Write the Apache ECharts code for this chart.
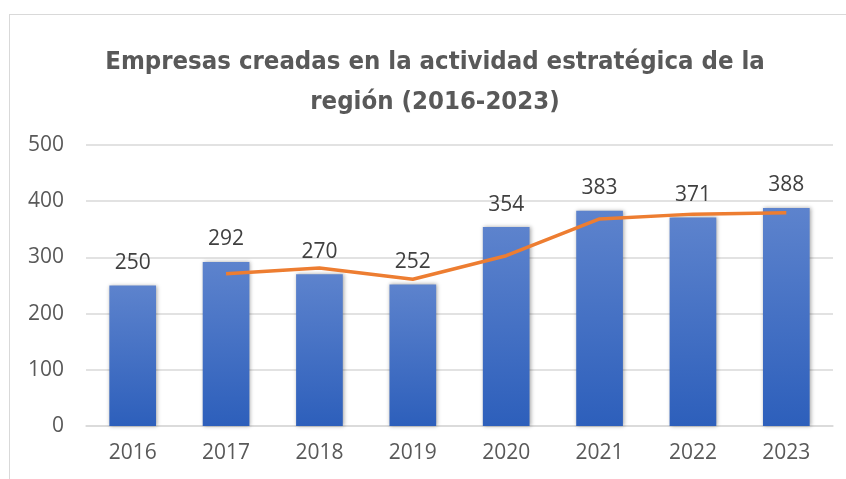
<!DOCTYPE html>
<html>
<head>
<meta charset="utf-8">
<script src="https://cdn.jsdelivr.net/npm/echarts@6/dist/echarts.min.js"></script>
<style>
  html, body { margin: 0; padding: 0; background: #fff; }
  #frame { position: absolute; left: 9px; top: 14px; width: 900px; height: 500px; border: 1px solid #d9d9d9; box-sizing: border-box; }
  #main { position: absolute; left: 0; top: 0; width: 846px; height: 479px; }
</style>
</head>
<body>
<div id="frame"></div>
<div id="main"></div>
<script>
// years on x axis
const years = ['2016', '2017', '2018', '2019', '2020', '2021', '2022', '2023'];
// companies created per year (bars)
const empresas = [250, 292, 270, 252, 354, 383, 371, 388];
// orange trend line
const tendencia = [null, 271, 281, 261, 303, 368.5, 377, 379.5];
const yTicks = { min: 0, max: 500, interval: 100 };

let myChart = echarts.init(document.getElementById('main'));
let option = {
    animation: false,
    title: {
        text: 'Empresas creadas en la actividad estratégica de la\nregión (2016-2023)',
        left: 430,
        top: 37,
        textAlign: 'center',
        textStyle: {
            fontFamily: 'DejaVu Sans Condensed, Roboto, sans-serif',
            fontWeight: 'bold',
            fontSize: 25.5,
            lineHeight: 40,
            color: '#595959'
        }
    },
    grid: {
        left: 86,
        right: 13,
        top: 145,
        bottom: 53,
        containLabel: false
    },
    xAxis: {
        type: 'category',
        data: years,
        axisTick: { show: false },
        axisLine: { lineStyle: { color: '#d9d9d9', width: 1.5 } },
        axisLabel: { color: '#595959', fontSize: 21, fontFamily: 'Open Sans', margin: 17 }
    },
    yAxis: {
        type: 'value',
        min: yTicks.min,
        max: yTicks.max,
        interval: yTicks.interval,
        axisLine: { show: false },
        axisTick: { show: false },
        splitLine: { lineStyle: { color: '#d9d9d9', width: 1.5 } },
        axisLabel: { color: '#595959', fontSize: 21, fontFamily: 'Open Sans', margin: 22 }
    },
    series: [{
        name: 'Empresas',
        type: 'bar',
        data: empresas,
        barWidth: '50%',
        itemStyle: {
            color: new echarts.graphic.LinearGradient(0, 0, 0, 1, [
                { offset: 0, color: '#5d83cd' },
                { offset: 1, color: '#2d5fbb' }
            ]),
            shadowColor: 'rgba(0,0,0,0.35)',
            shadowBlur: 4,
            shadowOffsetX: 1,
            shadowOffsetY: 0
        },
        label: {
            show: true,
            position: 'top',
            distance: 12,
            color: '#404040',
            fontSize: 21,
            fontFamily: 'Open Sans'
        }
    }, {
        name: 'Tendencia',
        type: 'line',
        data: tendencia,
        symbol: 'none',
        lineStyle: { color: '#ed7d31', width: 3.5 },
        z: 3
    }]
};
myChart.setOption(option);
</script>
</body>
</html>
